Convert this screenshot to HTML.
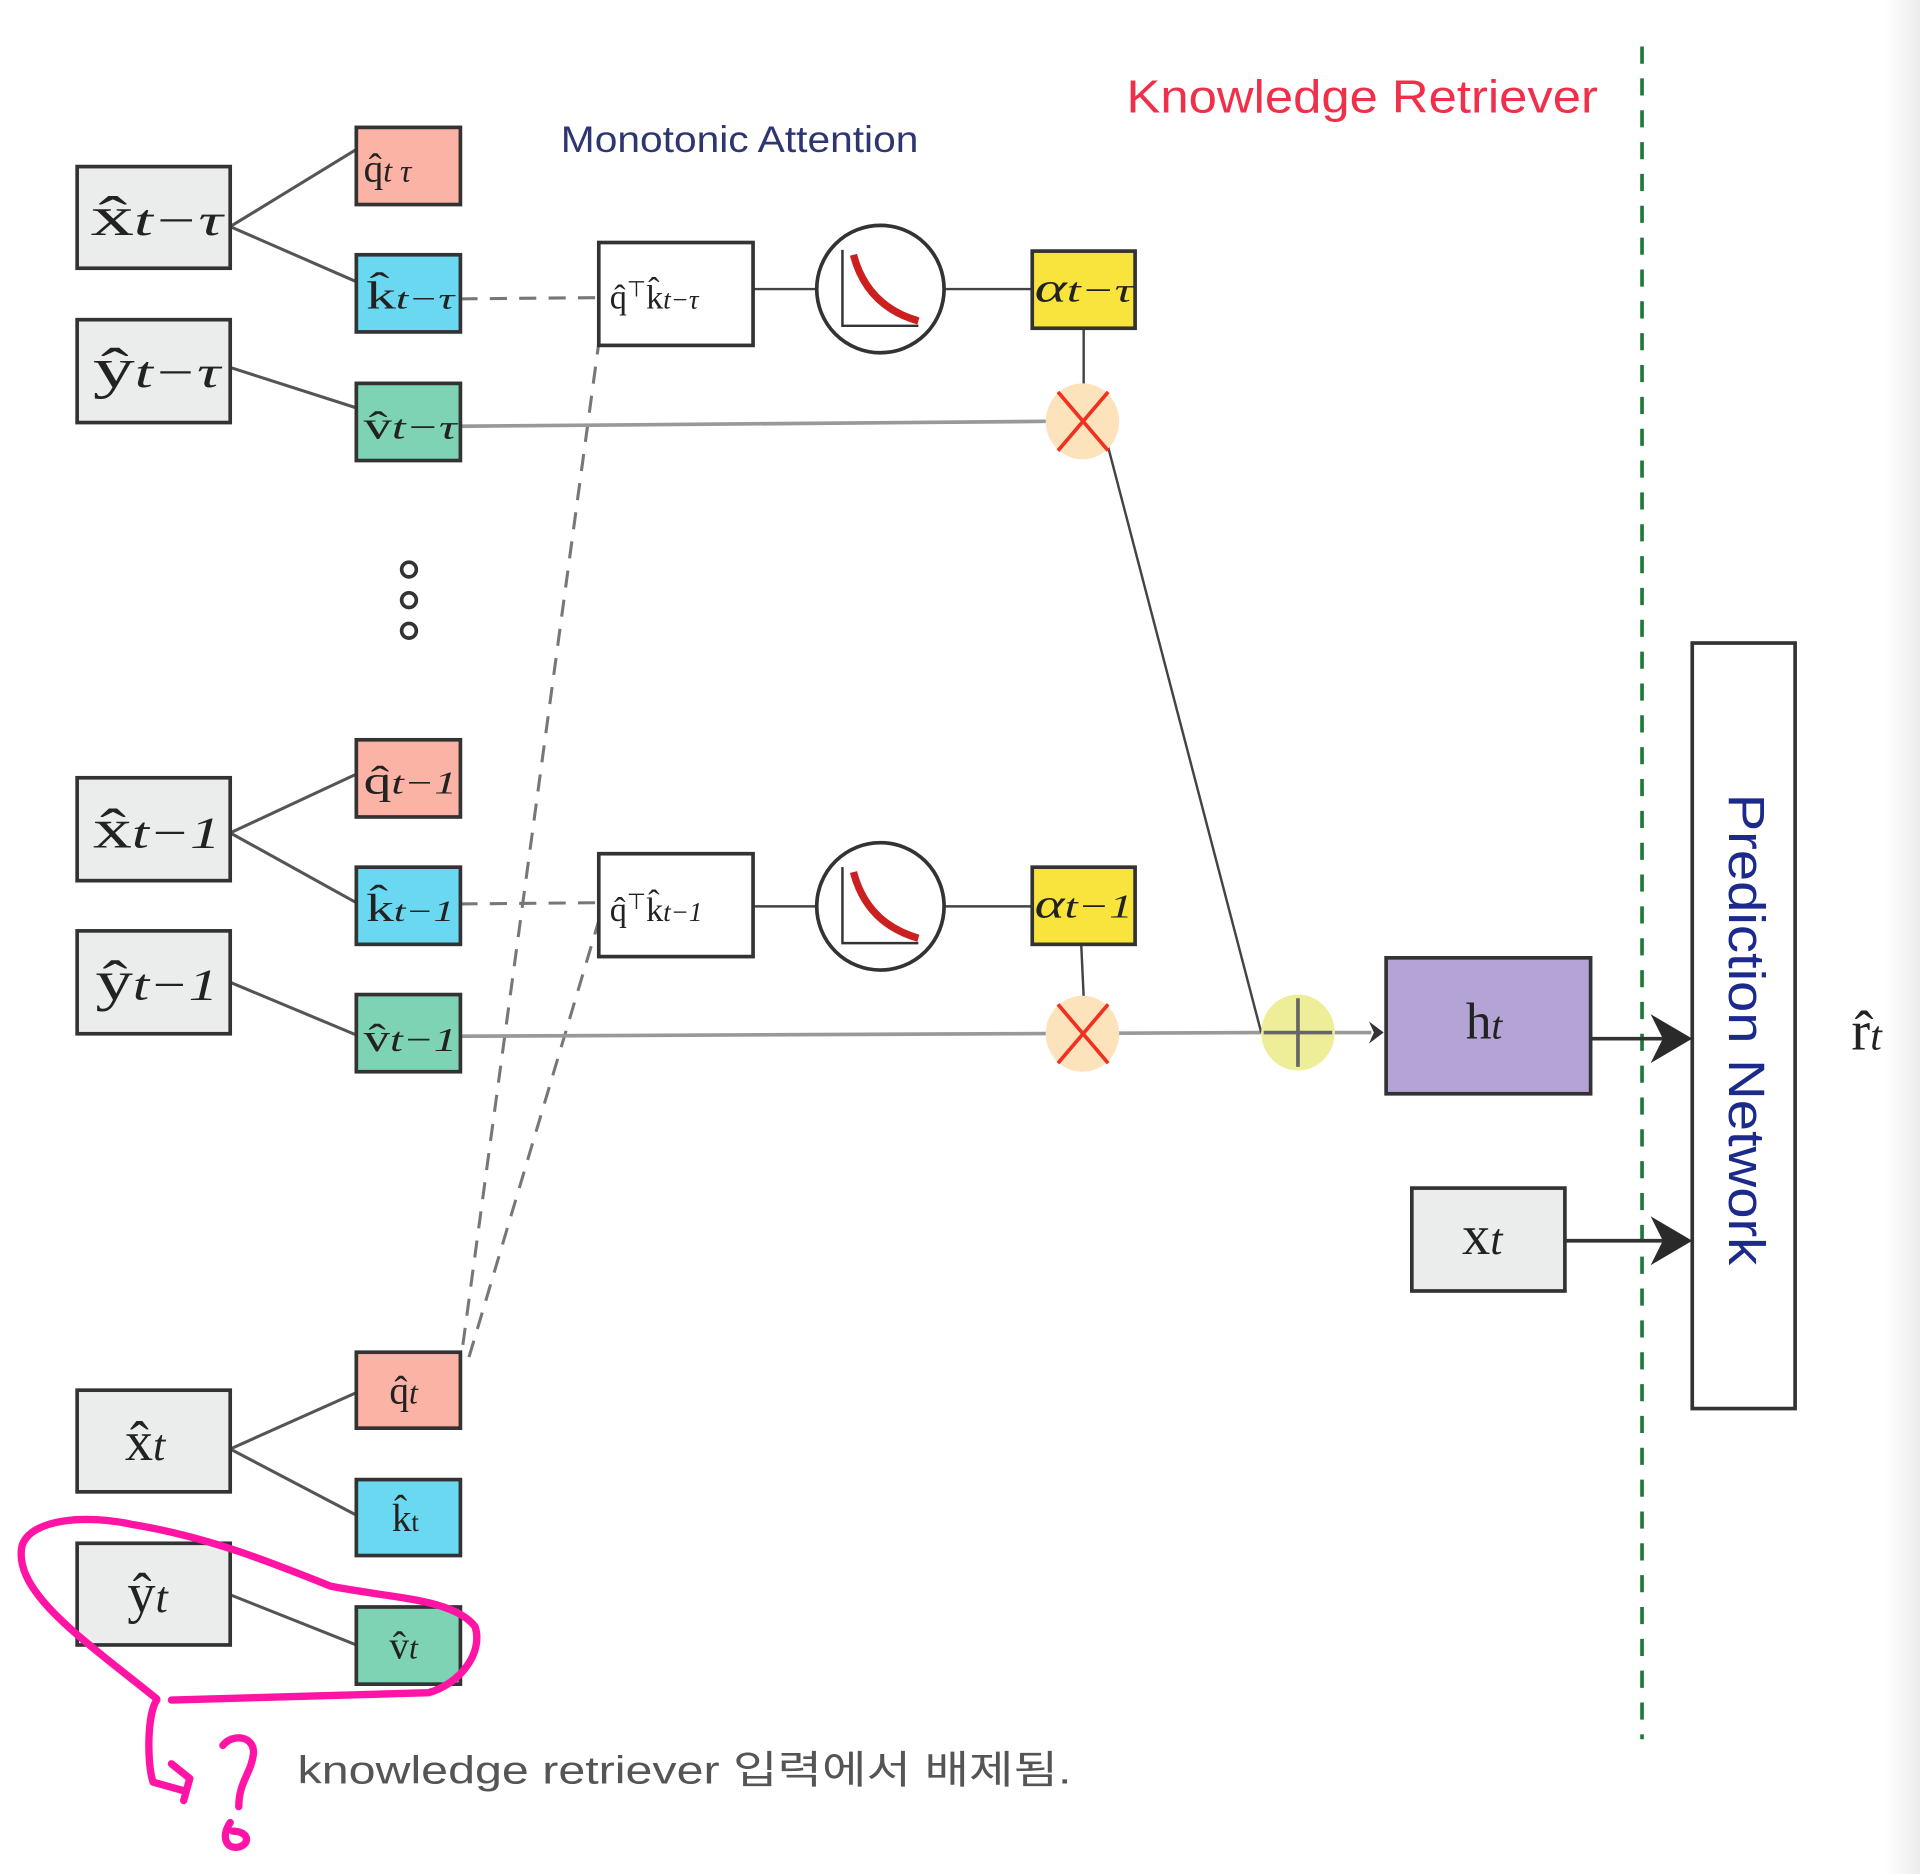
<!DOCTYPE html>
<html><head><meta charset="utf-8"><style>
html,body{margin:0;padding:0;background:#fff;width:1920px;height:1874px;overflow:hidden}
svg{display:block}
.m{font-family:"Liberation Serif",serif;fill:#222}
.s{font-style:italic}
</style></head><body>
<svg width="1920" height="1874" viewBox="0 0 1568 1530" preserveAspectRatio="none" xmlns="http://www.w3.org/2000/svg">
<defs>
<linearGradient id="rg" x1="0" x2="1"><stop offset="0" stop-color="#fff"/><stop offset="1" stop-color="#ececec"/></linearGradient>
</defs>
<rect x="1540" y="0" width="28" height="1530" fill="url(#rg)"/>
<text x="920" y="92" font-family="Liberation Sans,sans-serif" font-size="38" fill="#f0304a" textLength="385" lengthAdjust="spacingAndGlyphs">Knowledge Retriever</text>
<text x="458" y="124" font-family="Liberation Sans,sans-serif" font-size="30" fill="#2d3670" textLength="292" lengthAdjust="spacingAndGlyphs">Monotonic Attention</text>
<line x1="1341" y1="38" x2="1341" y2="1420" stroke="#1e7a3a" stroke-width="3" stroke-dasharray="14,12"/>

<g stroke="#555" stroke-width="2.5" fill="none">
<line x1="188" y1="185" x2="291" y2="122"/><line x1="188" y1="185" x2="291" y2="230"/><line x1="188" y1="300" x2="291" y2="333"/>
<line x1="188" y1="680" x2="291" y2="632"/><line x1="188" y1="680" x2="291" y2="737"/><line x1="188" y1="802" x2="291" y2="845"/>
<line x1="188" y1="1183" x2="291" y2="1137"/><line x1="188" y1="1183" x2="291" y2="1237"/><line x1="188" y1="1302" x2="291" y2="1343"/>
</g>
<g stroke="#777" stroke-width="2.5" fill="none" stroke-dasharray="14,10">
<line x1="376" y1="244" x2="489" y2="243"/>
<line x1="376" y1="738" x2="489" y2="737"/>
<line x1="378" y1="1098" x2="489" y2="280"/>
<line x1="383" y1="1108" x2="491" y2="745"/>
</g>
<g stroke="#999" stroke-width="3">
<line x1="376" y1="348" x2="856" y2="344"/>
<line x1="376" y1="846" x2="1030" y2="843"/>
<line x1="1090" y1="843" x2="1120" y2="843"/>
</g>
<g stroke="#444" stroke-width="2">
<line x1="615" y1="236" x2="667" y2="236"/><line x1="771" y1="236" x2="843" y2="236"/>
<line x1="615" y1="740" x2="667" y2="740"/><line x1="771" y1="740" x2="843" y2="740"/>
<line x1="885" y1="268" x2="885" y2="314"/><line x1="883" y1="771" x2="885" y2="814"/>
<line x1="905" y1="365" x2="1030" y2="843"/>
</g>
<polygon points="1118,834 1130,843 1118,852 1122,843" fill="#333"/>
<g fill="#ebecec" stroke="#333" stroke-width="3">
<rect x="63" y="136" width="125" height="83"/><rect x="63" y="261" width="125" height="84"/>
<rect x="63" y="635" width="125" height="84"/><rect x="63" y="760" width="125" height="84"/>
<rect x="63" y="1135" width="125" height="83"/><rect x="63" y="1260" width="125" height="83"/>
<rect x="1153" y="970" width="125" height="84"/>
</g>
<g class="m" font-size="46">
<text x="74" y="192" textLength="108" lengthAdjust="spacingAndGlyphs">x̂<tspan class="s" font-size="36">t−τ</tspan></text>
<text x="76" y="316" textLength="104" lengthAdjust="spacingAndGlyphs">ŷ<tspan class="s" font-size="36">t−τ</tspan></text>
<text x="76" y="692" textLength="104" lengthAdjust="spacingAndGlyphs">x̂<tspan class="s" font-size="36">t−1</tspan></text>
<text x="78" y="816" textLength="100" lengthAdjust="spacingAndGlyphs">ŷ<tspan class="s" font-size="36">t−1</tspan></text>
<text x="102" y="1192">x̂<tspan class="s" font-size="36">t</tspan></text>
<text x="104" y="1316">ŷ<tspan class="s" font-size="36">t</tspan></text>
<text x="1194" y="1024">x<tspan class="s" font-size="36">t</tspan></text>
</g>
<g stroke="#333" stroke-width="3">
<rect x="291" y="104" width="85" height="63" fill="#fbb3a6"/><rect x="291" y="208" width="85" height="63" fill="#6ad8f0"/><rect x="291" y="313" width="85" height="63" fill="#7dd3b4"/>
<rect x="291" y="604" width="85" height="63" fill="#fbb3a6"/><rect x="291" y="708" width="85" height="63" fill="#6ad8f0"/><rect x="291" y="812" width="85" height="63" fill="#7dd3b4"/>
<rect x="291" y="1104" width="85" height="62" fill="#fbb3a6"/><rect x="291" y="1208" width="85" height="62" fill="#6ad8f0"/><rect x="291" y="1312" width="85" height="63" fill="#7dd3b4"/>
<rect x="489" y="198" width="126" height="84" fill="#fff"/><rect x="489" y="697" width="126" height="84" fill="#fff"/>
<rect x="843" y="205" width="84" height="63" fill="#f8e43c"/><rect x="843" y="708" width="84" height="63" fill="#f8e43c"/>
<rect x="1132" y="782" width="167" height="111" fill="#b4a4d6"/>
<rect x="1382" y="525" width="84" height="625" fill="#fff"/>
</g>
<g class="m" font-size="32">
<text x="297" y="148">q̂<tspan class="s" font-size="26">t   τ</tspan></text>
<text x="299" y="252" textLength="72" lengthAdjust="spacingAndGlyphs">k̂<tspan class="s" font-size="24">t−τ</tspan></text>
<text x="297" y="358" textLength="76" lengthAdjust="spacingAndGlyphs">v̂<tspan class="s" font-size="28">t−τ</tspan></text>
<text x="297" y="648" textLength="76" lengthAdjust="spacingAndGlyphs">q̂<tspan class="s" font-size="26">t−1</tspan></text>
<text x="299" y="752" textLength="72" lengthAdjust="spacingAndGlyphs">k̂<tspan class="s" font-size="24">t−1</tspan></text>
<text x="297" y="858" textLength="76" lengthAdjust="spacingAndGlyphs">v̂<tspan class="s" font-size="28">t−1</tspan></text>
<text x="318" y="1146">q̂<tspan class="s" font-size="26">t</tspan></text>
<text x="320" y="1250">k̂<tspan font-size="22">t</tspan></text>
<text x="318" y="1354">v̂<tspan class="s" font-size="26">t</tspan></text>
<text x="498" y="252" font-size="28">q̂<tspan font-size="18" dy="-10">⊤</tspan><tspan dy="10">k̂</tspan><tspan class="s" font-size="22">t−τ</tspan></text>
<text x="498" y="752" font-size="28">q̂<tspan font-size="18" dy="-10">⊤</tspan><tspan dy="10">k̂</tspan><tspan class="s" font-size="22">t−1</tspan></text>
<text x="845" y="246" class="s" font-size="34" textLength="80" lengthAdjust="spacingAndGlyphs">α<tspan font-size="28">t−τ</tspan></text>
<text x="845" y="749" class="s" font-size="34" textLength="80" lengthAdjust="spacingAndGlyphs">α<tspan font-size="28">t−1</tspan></text>
<text x="1197" y="848" font-size="42">h<tspan class="s" font-size="32">t</tspan></text>
<text x="1512" y="857" font-size="46">r̂<tspan class="s" font-size="34">t</tspan></text>
</g>
<g stroke="#333" stroke-width="3" fill="#fff">
<circle cx="719" cy="236" r="52"/><circle cx="719" cy="740" r="52"/>
</g>
<g stroke="#333" stroke-width="2" fill="none">
<path d="M688 204 V266 H750"/><path d="M688 708 V770 H750"/>
</g>
<g stroke="#cc1f1f" stroke-width="6" fill="none">
<path d="M697 208 Q708 250 750 262"/><path d="M697 712 Q708 754 750 766"/>
</g>
<g fill="#fde3bc"><ellipse cx="884" cy="344" rx="30" ry="31"/><ellipse cx="884" cy="844" rx="30" ry="31"/></g>
<g stroke="#f03020" stroke-width="3">
<path d="M864 320 L905 368 M905 320 L864 368"/><path d="M864 820 L905 868 M905 820 L864 868"/>
</g>
<ellipse cx="1060" cy="843" rx="30" ry="31" fill="#eeee99"/>
<path d="M1032 843 H1088 M1060 815 V871" stroke="#666" stroke-width="3"/>
<g fill="none" stroke="#333" stroke-width="3"><circle cx="334" cy="465" r="6"/><circle cx="334" cy="490" r="6"/><circle cx="334" cy="515" r="6"/></g>
<g stroke="#333" stroke-width="3"><line x1="1299" y1="848" x2="1360" y2="848"/><line x1="1278" y1="1013" x2="1360" y2="1013"/></g>
<g fill="#2a2a2a"><polygon points="1348,828 1382,848 1348,868 1358,848"/><polygon points="1348,993 1382,1013 1348,1033 1358,1013"/></g>
<text transform="translate(1412,648) rotate(90)" font-family="Liberation Sans,sans-serif" font-size="42" fill="#1c2a8c" textLength="385" lengthAdjust="spacingAndGlyphs">Prediction Network</text>
<g stroke="#ff14a6" stroke-width="6" fill="none" stroke-linecap="round" stroke-linejoin="round">
<path d="M128 1387 C70 1340 10 1300 18 1262 C25 1240 70 1236 110 1245 C170 1255 220 1275 270 1295 C320 1305 370 1305 388 1328 C395 1350 375 1375 350 1382 L140 1388"/>
<path d="M128 1388 C120 1400 120 1440 125 1455 L150 1462 M140 1440 L155 1452 L150 1470"/>
<path d="M182 1425 C190 1415 208 1417 207 1432 C205 1448 195 1455 195 1475 M188 1488 C180 1500 185 1510 195 1508 C205 1505 203 1495 190 1495"/>
</g>
<text x="243" y="1456" font-family="Liberation Sans,'Noto Sans CJK KR',sans-serif" font-size="32" fill="#555" textLength="632" lengthAdjust="spacingAndGlyphs">knowledge retriever 입력에서 배제됨.</text>
</svg>
</body></html>
